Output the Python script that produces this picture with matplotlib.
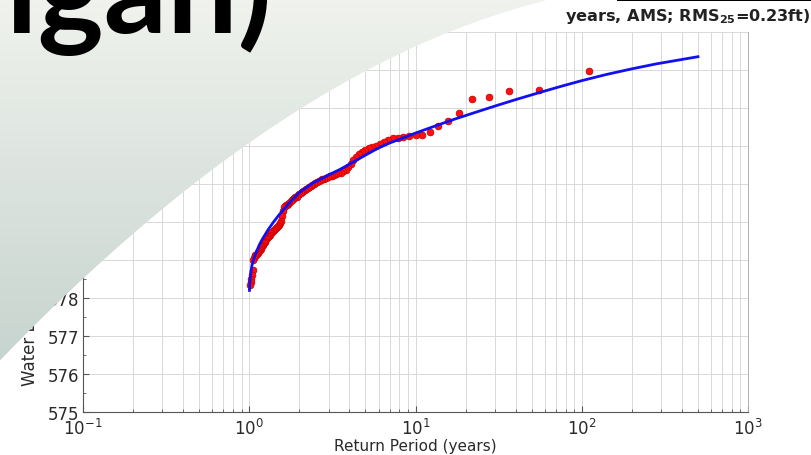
import numpy as np
import matplotlib
matplotlib.use("Agg")
import matplotlib.pyplot as plt
from matplotlib.patches import Polygon, Rectangle
from matplotlib.ticker import MultipleLocator, LogLocator, NullFormatter

plt.rcParams["font.family"] = ["DejaVu Sans"]
plt.rcParams["mathtext.default"] = "regular"

# annual maximum water levels (ft), largest first
levels = [
    583.97, 583.47, 583.45, 583.29, 583.24, 582.87, 582.66, 582.53, 582.37, 582.30,
    582.29, 582.27, 582.25, 582.22, 582.20, 582.15, 582.10, 582.05, 582.00, 581.98,
    581.95, 581.90, 581.85, 581.80, 581.72, 581.62, 581.52, 581.44, 581.38, 581.33,
    581.30, 581.28, 581.26, 581.24, 581.22, 581.20, 581.18, 581.16, 581.14, 581.12,
    581.10, 581.08, 581.05, 581.02, 581.00, 580.97, 580.94, 580.92, 580.90, 580.88,
    580.85, 580.82, 580.80, 580.77, 580.74, 580.70, 580.67, 580.65, 580.62, 580.60,
    580.57, 580.54, 580.51, 580.48, 580.46, 580.44, 580.42, 580.40, 580.30, 580.15,
    580.03, 579.97, 579.93, 579.90, 579.87, 579.84, 579.82, 579.80, 579.77, 579.74,
    579.72, 579.70, 579.67, 579.64, 579.60, 579.57, 579.54, 579.50, 579.47, 579.44,
    579.40, 579.37, 579.34, 579.30, 579.27, 579.24, 579.20, 579.18, 579.16, 579.14,
    579.12, 579.10, 579.05, 579.00, 578.75, 578.60, 578.50, 578.42, 578.35,
]

# fitted frequency curve
fit_period = [1.003, 1.01, 1.02, 1.04, 1.07, 1.1, 1.15, 1.2, 1.3, 1.4, 1.5, 1.7,
              2.0, 2.4, 3.0, 3.5, 4.0, 5.0, 6.0, 7.0, 8.5, 10, 13, 17, 22, 30,
              40, 55, 75, 100, 140, 200, 280, 380, 500]
fit_level = [578.20, 578.45, 578.65, 578.88, 579.05, 579.20, 579.40, 579.55,
             579.80, 580.00, 580.17, 580.45, 580.78, 581.02, 581.24, 581.38,
             581.52, 581.76, 581.95, 582.08, 582.22, 582.34, 582.52, 582.70,
             582.86, 583.05, 583.22, 583.40, 583.57, 583.72, 583.88, 584.03,
             584.16, 584.26, 584.35]

W, H = 811, 456

# Weibull plotting positions
n = len(levels)
rank = np.arange(1, n + 1)
period = (n + 1) / rank

fig = plt.figure(figsize=(W / 100, H / 100), dpi=100)
fig.patch.set_facecolor("white")

ax = fig.add_axes([83 / W, 43 / H, 665 / W, 380 / H])
ax.set_xscale("log")
ax.set_xlim(0.1, 1000)
ax.set_ylim(575, 585)

ax.plot(period, levels, "o", ms=4.8, color="#ff1010", mec="#d00000", mew=0.6, zorder=3)
ax.plot(fit_period, fit_level, "-", color="#1010f0", lw=2.0, zorder=4)

ax.yaxis.set_major_locator(MultipleLocator(1))
ax.yaxis.set_minor_locator(MultipleLocator(0.5))
ax.xaxis.set_major_locator(LogLocator(base=10))
ax.xaxis.set_minor_locator(LogLocator(base=10, subs=np.arange(2, 10)))
ax.xaxis.set_minor_formatter(NullFormatter())

ax.grid(True, which="both", axis="x", color="#d8d8d8", lw=0.7)
ax.grid(True, which="major", axis="y", color="#d8d8d8", lw=0.7)
ax.set_axisbelow(True)

ax.tick_params(which="both", direction="in", colors="#555555", labelcolor="#2a2a2a",
               labelsize=12, right=False, top=False)
ax.tick_params(which="major", length=4)
ax.tick_params(which="minor", length=2.5)
ax.tick_params(axis="x", pad=4)
ax.tick_params(axis="y", pad=3)
for side in ("left", "bottom"):
    ax.spines[side].set_color("#555555")
    ax.spines[side].set_linewidth(0.8)
ax.spines["right"].set_color("#b0b0b0")
ax.spines["right"].set_linewidth(0.7)
ax.spines["top"].set_visible(False)

ax.set_xlabel("Return Period (years)", fontsize=11, color="#2a2a2a", labelpad=0)

fig.text(30 / W, 1 - 386 / H, "Water Level (ft)", rotation=90, ha="center", va="bottom",
         fontsize=12, color="#2a2a2a")
fig.text(810 / W, 1 - 16 / H, "years, AMS; RMS$_{25}$=0.23ft)", ha="right", va="center",
         fontsize=11.6, weight="bold", color="#222222")

# slide background sweeping over the upper left of the plot
ov = fig.add_axes([0, 0, 1, 1], zorder=5)
ov.patch.set_alpha(0)
ov.axis("off")

# smooth arc for the edge of the slide background (pixel coordinates)
edge_x = [0, 35, 70, 110, 150, 227, 300, 400, 450, 500, 545]
edge_y = [357, 328, 297, 256, 220, 155, 108, 58, 34, 15, 0]
coef = np.polyfit(edge_x, edge_y, 3)
xs = np.linspace(0, 545, 120)
ys = np.clip(np.polyval(coef, xs), 0, None)
shape = Polygon([(0, 0), (545, 0)] + list(zip(xs[::-1], ys[::-1])), closed=True,
                facecolor="none", edgecolor="none")
ov.add_patch(shape)

top = np.array([0.94, 0.95, 0.93])
bottom = np.array([0.78, 0.83, 0.81])
t = np.linspace(0, 1, 200)[:, None, None]
grad = (1 - t) * top + t * bottom
grad = np.repeat(grad, 2, axis=1)
img = ov.imshow(grad, extent=(0, W, 365, 0), aspect="auto", interpolation="bilinear")
img.set_clip_path(shape)

ov.add_patch(Rectangle((617, 0), W - 617, 2, color="black", lw=0))
ov.text(272, 33, "igan)", fontsize=90, weight="bold", family="Lato", color="black",
        ha="right", va="baseline")

ov.set_xlim(0, W)
ov.set_ylim(H, 0)

fig.savefig("out.png", dpi=100)
